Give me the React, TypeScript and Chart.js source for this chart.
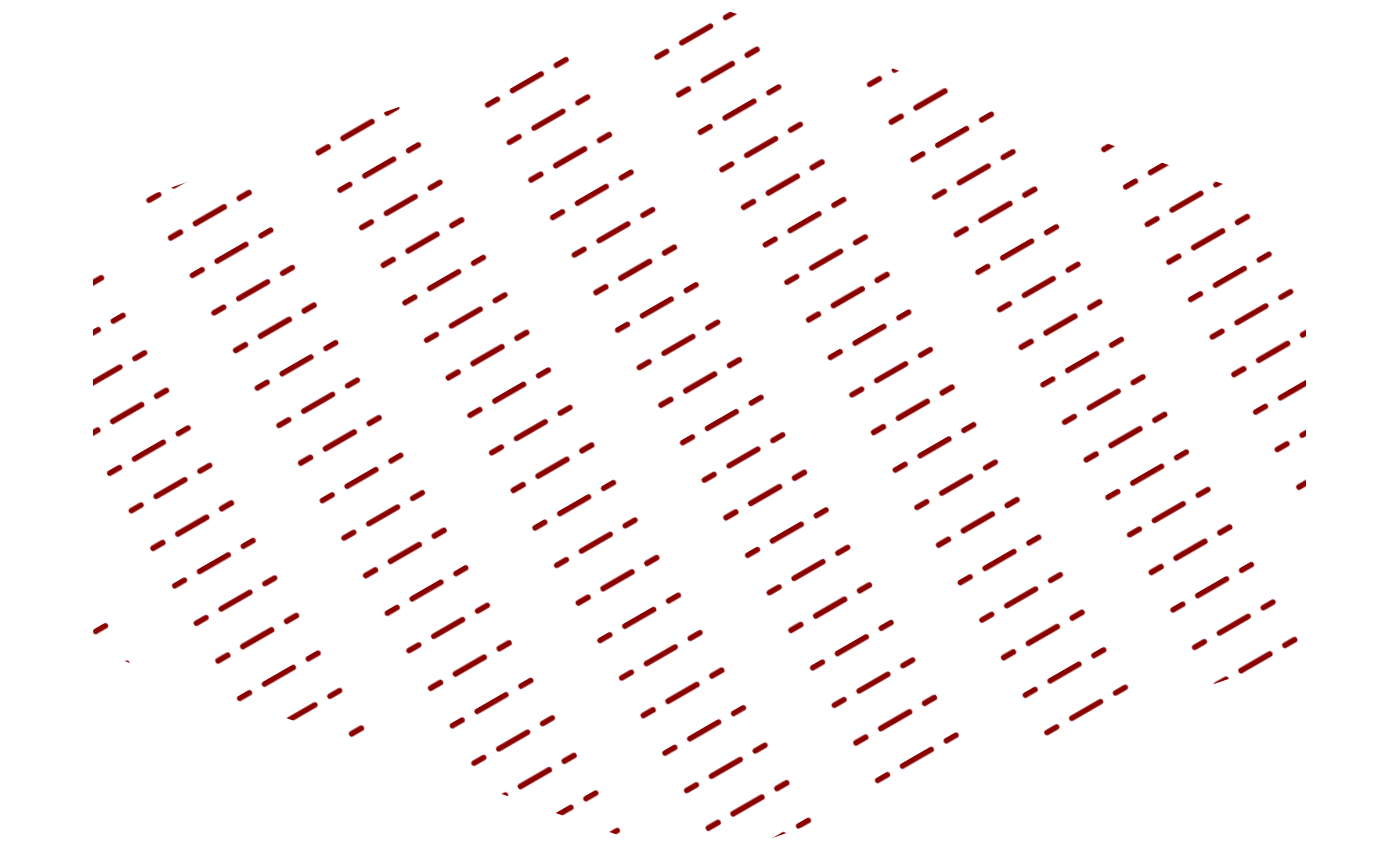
import { useEffect, useRef } from 'react'
import { Chart, ChartConfiguration, registerables } from 'chart.js'

Chart.register(...registerables)

// radar axes, clockwise from the top
const labels = ['North', 'East', 'South', 'West']
const values = [101.7, 290.8, 101.3, 287.5]
const scaleMax = 100

const hatchColor = '#8b0000'

// dashed hatch: short - long - short groups, tilted 30 degrees
function makeHatch(ctx: CanvasRenderingContext2D) {
  const tile = document.createElement('canvas')
  tile.width = 341
  tile.height = 130
  const t = tile.getContext('2d')!
  t.strokeStyle = hatchColor
  t.lineWidth = 5.6
  t.lineCap = 'round'
  const rowGap = 130 / 3
  const groupGap = 170.5
  const segs = [[-5.5, 5.5], [23.1, 56.1], [73.7, 84.7]]
  for (let r = 0; r < 3; r++) {
    const y = 20.4 + r * rowGap
    for (let g = 0; g < 2; g++) {
      const x0 = 31.6 + g * groupGap
      for (const [a, b] of segs) {
        t.beginPath()
        t.moveTo(x0 + a, y)
        t.lineTo(x0 + b, y)
        t.stroke()
      }
    }
  }
  const pattern = ctx.createPattern(tile, 'repeat')!
  pattern.setTransform(new DOMMatrix().rotateSelf(-30))
  return pattern
}

function HatchRadar() {
  const canvasRef = useRef<HTMLCanvasElement>(null)
  const chartRef = useRef<Chart | null>(null)

  useEffect(() => {
    if (!canvasRef.current) return
    const ctx = canvasRef.current.getContext('2d')
    if (!ctx) return

    if (chartRef.current) {
      chartRef.current.destroy()
    }

    const config: ChartConfiguration = {
      type: 'radar',
      data: {
        labels,
        datasets: [
          {
            label: 'Range',
            data: values,
            backgroundColor: makeHatch(ctx),
            borderColor: 'rgba(0,0,0,0)',
            borderWidth: 0,
            pointRadius: 0,
            pointHoverRadius: 0,
            fill: true,
          },
        ],
      },
      options: {
        animation: false,
        responsive: true,
        maintainAspectRatio: false,
        layout: { padding: { left: 85, right: 86, top: 0, bottom: 0 } },
        plugins: {
          legend: { display: false },
          tooltip: { enabled: false },
        },
        scales: {
          r: {
            display: false,
            min: 0,
            max: scaleMax,
          },
        },
      },
    }

    chartRef.current = new Chart(ctx, config)

    return () => {
      chartRef.current?.destroy()
      chartRef.current = null
    }
  }, [])

  return (
    <div style={{ height: 850 }}>
      <canvas ref={canvasRef} />
    </div>
  )
}

export default function App() {
  return <HatchRadar />
}
